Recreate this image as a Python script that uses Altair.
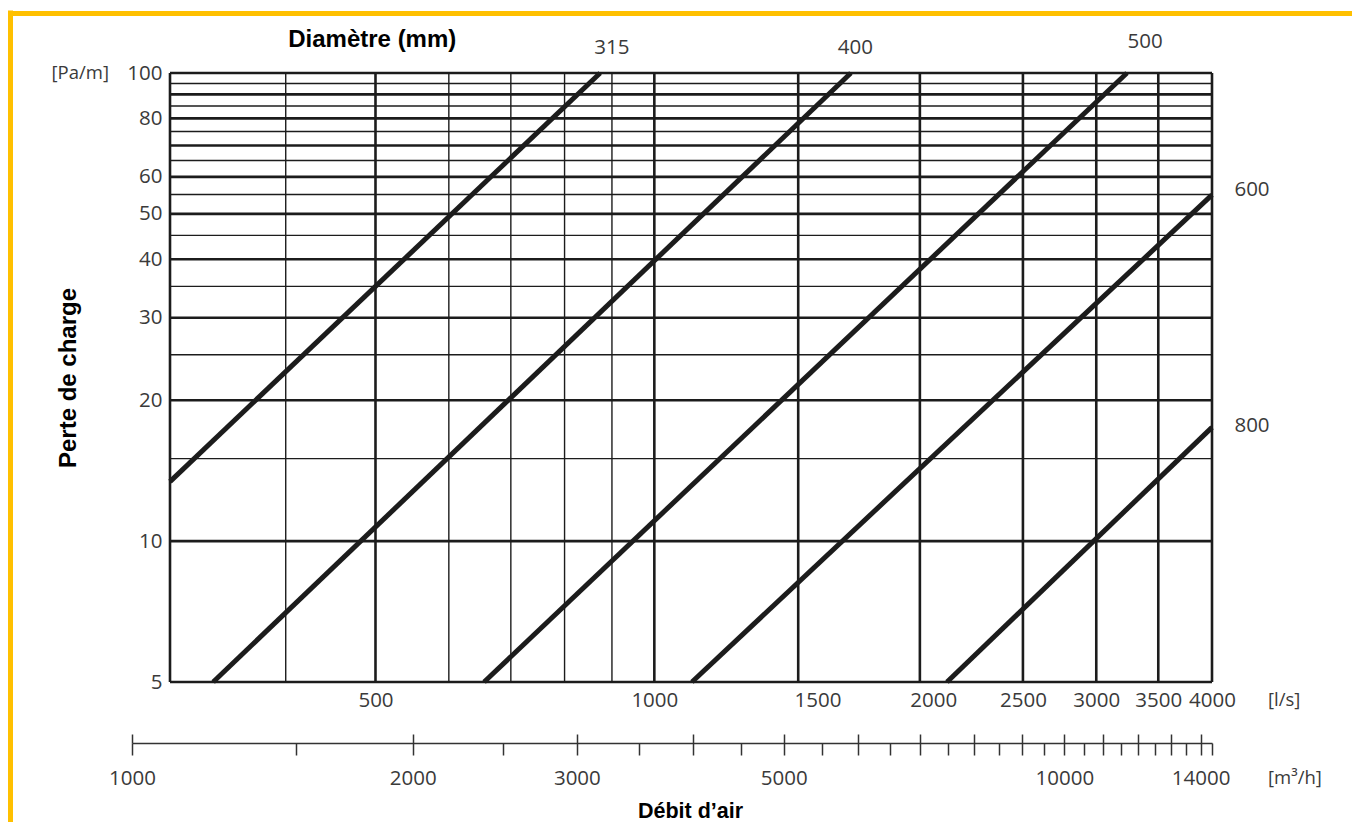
import altair as alt
import pandas as pd

# ---------------- data ----------------
# horizontal grid lines (Pa/m); the major ones are drawn thicker
h_lines = [5, 10, 15, 20, 25, 30, 35, 40, 45, 50, 55, 60, 65, 70, 75, 80, 85, 90, 95, 100]
h_major = [5, 10, 20, 30, 40, 50, 60, 70, 80, 90, 100]
# vertical grid lines (l/s); the 1500 / 2000 lines sit where the original drew them
v_lines = [300, 400, 500, 600, 700, 800, 900, 1000, 1430, 1935, 2500, 3000, 3500, 4000]
v_major = [300, 500, 1000, 1430, 1935, 2500, 3000, 3500, 4000]

# duct diameter curves (end points on the log-log grid)
diam = ["315", "315", "400", "400", "500", "500", "600", "600", "800", "800"]
flow = [300, 874, 334, 1630, 655, 3238, 1098, 4000, 2070, 4000]
loss = [13.4, 100, 5, 100, 5, 100, 5, 54.9, 5, 17.5]

# diameter labels
d_label = ["315", "400", "500", "600", "800"]
d_label_x = [900, 1648, 3387, 4418, 4418]
d_label_y = [113, 113, 116.5, 56.2, 17.6]

# unit annotations
pa_text, pa_x, pa_y = ["[Pa/m]"], [240], [100]
unit_text = ["[l/s]", "[m³/h]"]
unit_x = [4598, 4598]
unit_y = [4.58, 3.12]

title_text = ["Diamètre (mm)"]
title_x = [496]
title_y = [117.6]

# axis ticks
y_ticks = [5, 10, 20, 30, 40, 50, 60, 80, 100]
ls_ticks = [500, 1000, 1500, 2000, 2500, 3000, 3500, 4000]
m3h_ticks = [1000, 1500, 2000, 2500, 3000, 3500, 4000, 4500, 5000, 5500, 6000, 6500,
             7000, 7500, 8000, 8500, 9000, 9500, 10000, 10500, 11000, 11500, 12000,
             12500, 13000, 13500, 14000, 14400]
m3h_major = [1000, 2000, 3000, 4000, 5000, 6000, 7000, 8000, 9000, 10000, 11000,
             12000, 13000, 14000]
m3h_labels = [1000, 2000, 3000, 5000, 10000, 14000]

# ---------------- tables ----------------
hdf = pd.DataFrame({"v": h_lines, "w": [2.6 if v in h_major else 1.4 for v in h_lines]})
vdf = pd.DataFrame({"v": v_lines, "w": [2.6 if v in v_major else 1.4 for v in v_lines]})
cdf = pd.DataFrame({"d": diam, "flow": flow, "loss": loss})
ldf = pd.DataFrame({"t": d_label, "x": d_label_x, "y": d_label_y})
pdf_ = pd.DataFrame({"t": pa_text, "x": pa_x, "y": pa_y})
udf = pd.DataFrame({"t": unit_text, "x": unit_x, "y": unit_y})
tdf = pd.DataFrame({"t": title_text, "x": title_x, "y": title_y})
mdf = pd.DataFrame({"m": m3h_ticks})
fdf = pd.DataFrame({"f": [0, 1]})

NUM_FONT = "Open Sans"
BOLD_FONT = "Liberation Sans"
INK = "#1c1c1c"
TXT = "#3a3a3a"
NUM_SIZE = 20.5

xs = alt.Scale(type="log", domain=[300, 4000], nice=False)
ys = alt.Scale(type="log", domain=[5, 100], nice=False)

x_axis = alt.Axis(orient="bottom", values=ls_ticks, labelExpr="format(datum.value, 'd')",
                  ticks=False, tickSize=0, domain=False, grid=False, title=None,
                  labelFont=NUM_FONT, labelFontSize=NUM_SIZE, labelColor=TXT,
                  labelPadding=8, labelFlush=False, labelOverlap=False, labelBound=False)
y_axis = alt.Axis(orient="left", values=y_ticks, labelExpr="format(datum.value, 'd')",
                  ticks=False, tickSize=0, domain=False, grid=False,
                  title="Perte de charge", titleFont=BOLD_FONT, titleFontSize=24,
                  titleFontWeight="bold", titleColor="#000000", titlePadding=46,
                  labelFont=NUM_FONT, labelFontSize=NUM_SIZE, labelColor=TXT,
                  labelPadding=8, labelOverlap=False)


def enc(ch):
    return ch.encode(
        x=alt.X("x:Q", scale=xs, axis=x_axis),
        y=alt.Y("y:Q", scale=ys, axis=y_axis),
        text="t:N",
    )


hrules = alt.Chart(hdf).mark_rule(color=INK).encode(
    y=alt.Y("v:Q", scale=ys, axis=y_axis),
    strokeWidth=alt.StrokeWidth("w:Q", scale=None),
)
vrules = alt.Chart(vdf).mark_rule(color=INK).encode(
    x=alt.X("v:Q", scale=xs, axis=x_axis),
    strokeWidth=alt.StrokeWidth("w:Q", scale=None),
)
curves = alt.Chart(cdf).mark_line(color=INK, strokeWidth=5).encode(
    x=alt.X("flow:Q", scale=xs, axis=x_axis),
    y=alt.Y("loss:Q", scale=ys, axis=y_axis),
    detail="d:N",
)
dlabels = enc(alt.Chart(ldf).mark_text(font=NUM_FONT, fontSize=NUM_SIZE, color=TXT,
                                       align="center", baseline="middle"))
palabel = enc(alt.Chart(pdf_).mark_text(font=NUM_FONT, fontSize=18.5, color=TXT,
                                        align="center", baseline="middle"))
ulabels = enc(alt.Chart(udf).mark_text(font=NUM_FONT, fontSize=18.5, color=TXT,
                                       align="left", baseline="middle"))
tlabel = enc(alt.Chart(tdf).mark_text(font=BOLD_FONT, fontSize=24, fontWeight="bold",
                                      color="#000000", align="center", baseline="middle"))

main = alt.layer(hrules, vrules, curves, dlabels, palabel, ulabels, tlabel)

# second flow scale in m3/h underneath the chart
m_scale = alt.Scale(type="log", domain=[1000, 14400], range=[-38, 1042], nice=False)
label_list = ",".join(str(v) for v in m3h_labels)
lower = alt.Chart(mdf).mark_point(opacity=0).encode(
    x=alt.X("m:Q", scale=m_scale,
            axis=alt.Axis(orient="bottom", offset=61, values=m3h_ticks,
                          labelExpr=f"indexof([{label_list}], datum.value) >= 0 ? format(datum.value, 'd') : ''",
                          tickSize=12, tickWidth=1.5, tickColor="#333333",
                          domainWidth=1.5, domainColor="#333333", grid=False,
                          labelFont=NUM_FONT, labelFontSize=NUM_SIZE, labelColor=TXT,
                          labelPadding=13, labelFlush=False, labelOverlap=False, labelBound=False,
                          title="Débit d’air", titleFont=BOLD_FONT, titleFontSize=21.5,
                          titleFontWeight="bold", titleColor="#000000", titlePadding=12,
                          titleX=520)),
)
upper = alt.Chart(mdf).mark_point(opacity=0).encode(
    x=alt.X("m:Q", scale=m_scale,
            axis=alt.Axis(orient="bottom", offset=52, values=m3h_major,
                          tickSize=9, tickWidth=1.5, tickColor="#333333",
                          domain=False, labels=False, grid=False, title=None)),
)

# yellow frame (top and left edges)
frame = alt.Chart(fdf).mark_point(opacity=0).encode(
    x=alt.X("f:Q", scale=alt.Scale(domain=[0, 1], range=[-162, 1182], nice=False),
            axis=alt.Axis(orient="top", offset=60, domainColor="#FFC000", domainWidth=5,
                          ticks=False, labels=False, grid=False, title=None)),
    y=alt.Y("f:Q", scale=alt.Scale(domain=[0, 1], range=[749, -63], nice=False),
            axis=alt.Axis(orient="left", offset=160, domainColor="#FFC000", domainWidth=5,
                          ticks=False, labels=False, grid=False, title=None)),
)

chart = (
    alt.layer(main, lower, upper, frame)
    .resolve_scale(x="independent", y="independent")
    .properties(width=1042, height=609,
                autosize=alt.AutoSizeParams(type="none"),
                padding={"left": 162, "top": 65, "right": 140, "bottom": 140},
                background="#ffffff")
    .configure_view(stroke=None)
)

chart.save("out.html", embed_options={"renderer": "svg", "actions": False})
